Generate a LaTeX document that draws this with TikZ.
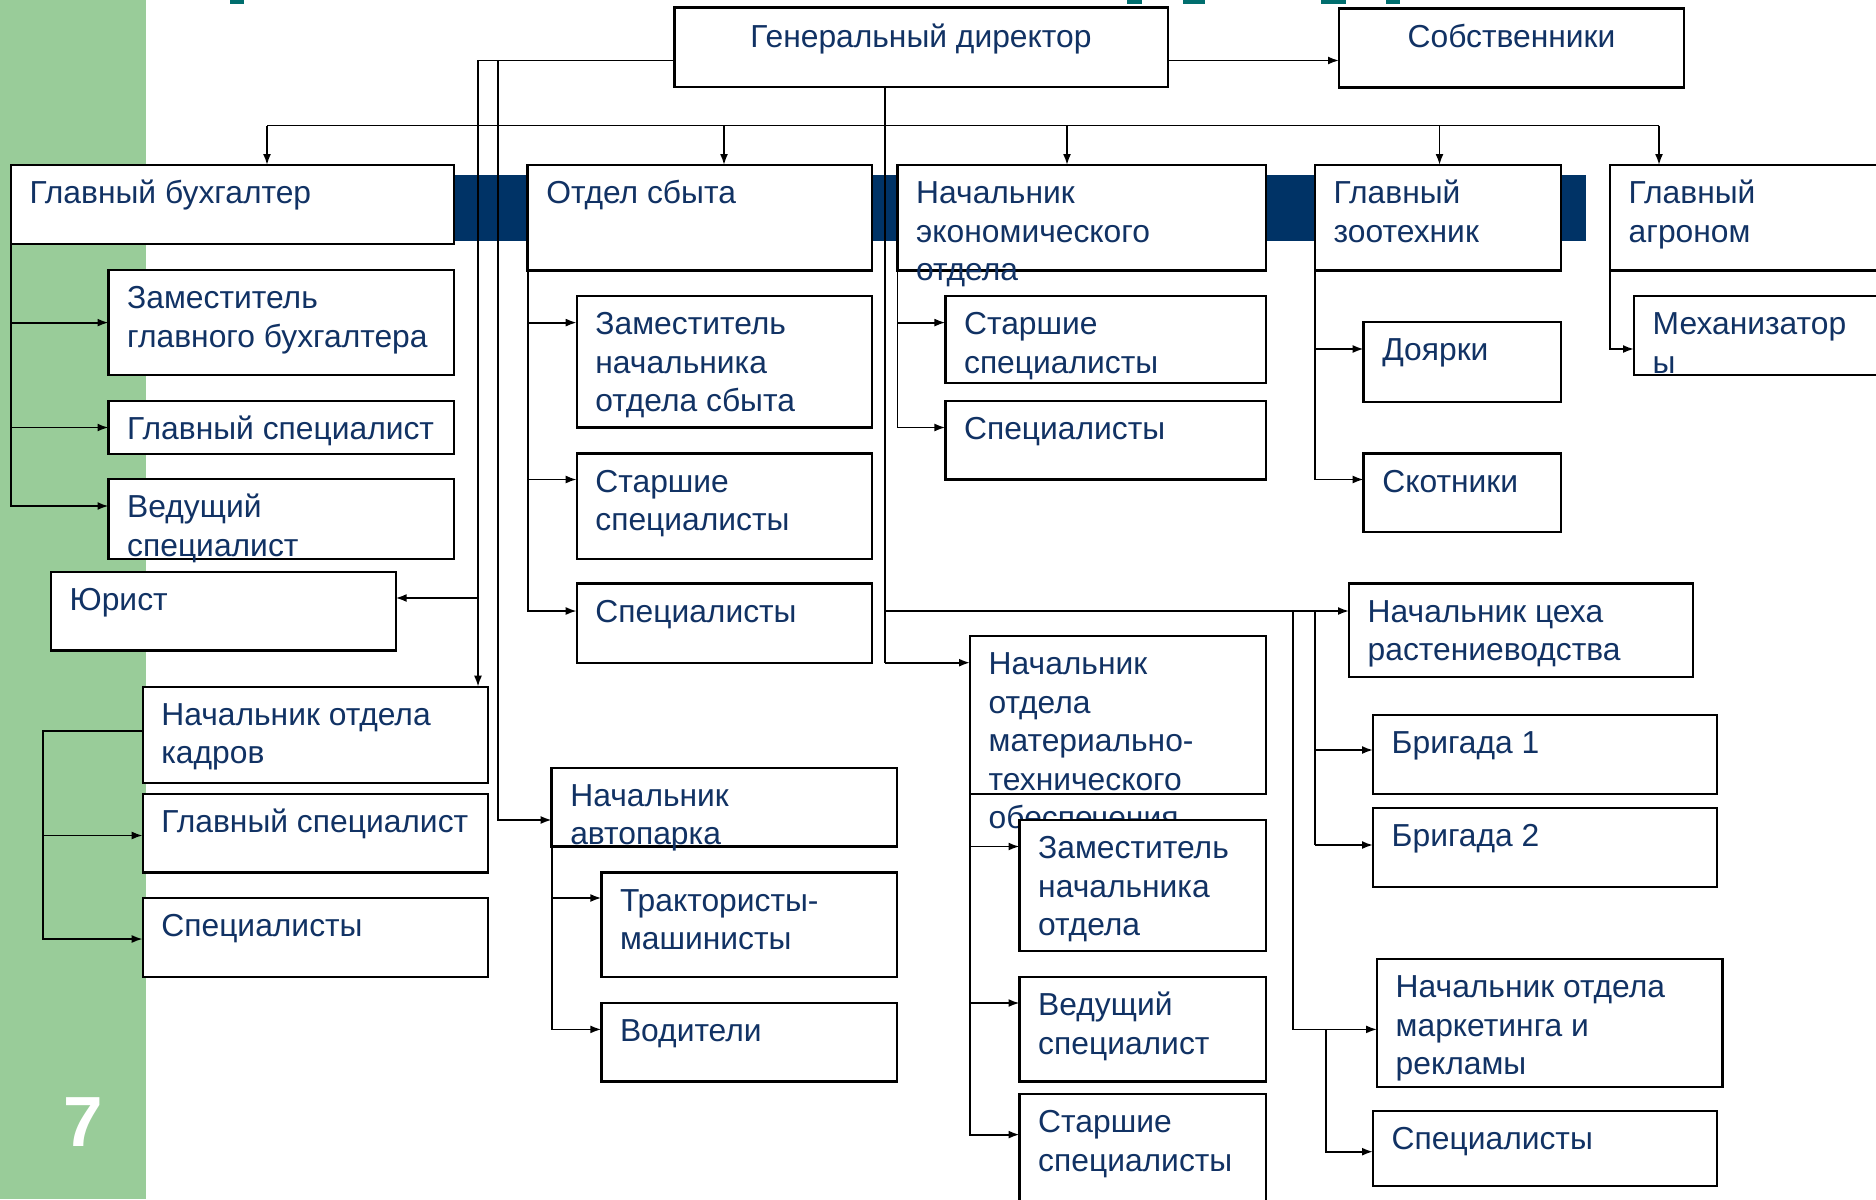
\documentclass[tikz,border=0pt]{standalone}
\usepackage{fontspec}
\setmainfont{Liberation Sans}
\usetikzlibrary{arrows.meta}
\definecolor{navy}{RGB}{0,51,102}
\definecolor{txtc}{RGB}{17,50,100}
\definecolor{grn}{RGB}{153,204,153}
\definecolor{tealt}{RGB}{0,110,110}
\tikzset{
 bx/.style={draw=black, line width=2.4pt, fill=white, inner sep=0pt, outer sep=0pt, anchor=north west},
 txt/.style={anchor=north west, inner sep=0pt, align=left, text=txtc, font=\fontsize{31.8}{38.5}\selectfont},
 ln/.style={line width=1.8pt, draw=black},
 arr/.style={ln, -{Latex[length=11pt,width=8pt]}},
}
\newcommand\bxn[6]{%
 \node[bx, minimum width={#4-#2}, minimum height={#5-#3}] (#1) at (#2,#3) {};
 \node[txt] (#1t) at (#2+18.5,#3+11.5) {\strut #6};}
\begin{document}
\begin{tikzpicture}[x=1pt,y=-1pt]
\clip (0,0) rectangle (1876,1199);
\fill[white] (0,0) rectangle (1876,1199);
\fill[grn] (0,0) rectangle (146,1199);
\fill[navy] (454,175) rectangle (1586,241);
% fragments of the cut-off title
\fill[tealt] (230,0) rectangle (244,4.5);
\fill[tealt] (1127,0) rectangle (1141.5,4.5);
\fill[tealt] (1183,0) rectangle (1205,4.5);
\fill[tealt] (1321,0) rectangle (1346,4.5);
\fill[tealt] (1386,0) rectangle (1400,4.5);
\node[text=white, font=\fontsize{71}{71}\bfseries\selectfont, inner sep=0pt] (num) at (83,1122) {7};
% top
\node[bx, minimum width={1168-674.5}, minimum height={87-7.7}] (gd) at (674.5,7.7) {};
\node[txt, anchor=base] (gdt) at (921,48) {Генеральный директор};
\node[bx, minimum width={1684-1339}, minimum height={87.3-8.4}] (own) at (1339,8.4) {};
\node[txt, anchor=base] (ownt) at (1511.5,48) {Собственники};
% row 1
\bxn{gb}{10.8}{165}{454}{244}{Главный бухгалтер}
\bxn{os}{527.6}{165}{872}{270.6}{Отдел сбыта}
\bxn{ne}{897.5}{165}{1266}{270.6}{Начальник\\экономического\\отдела}
\bxn{gz}{1315}{165}{1561}{270.6}{Главный\\зоотехник}
\bxn{ga}{1610}{165}{1890}{270.6}{Главный\\агроном}
% children
\bxn{gb1}{108.5}{270}{454}{375}{Заместитель\\главного бухгалтера}
\bxn{gb2}{108.5}{400.7}{454}{454}{Главный специалист}
\bxn{gb3}{108.5}{479}{454}{559}{Ведущий\\специалист}
\bxn{os1}{576.7}{296}{872}{427.5}{Заместитель\\начальника\\отдела сбыта}
\bxn{os2}{576.7}{453.5}{872}{559}{Старшие\\специалисты}
\bxn{os3}{576.7}{583.6}{872}{662.7}{Специалисты}
\bxn{ne1}{945.4}{296}{1266}{382.7}{Старшие\\специалисты}
\bxn{ne2}{945.4}{400.7}{1266}{479.5}{Специалисты}
\bxn{gz1}{1363.6}{322}{1561}{401.8}{Доярки}
\bxn{gz2}{1363.6}{453.5}{1561}{532}{Скотники}
\bxn{ga1}{1634}{296}{1890}{375}{Механизатор\\ы}
\bxn{jur}{51}{572}{395.7}{650.5}{Юрист}
\bxn{ok}{142.7}{686.7}{488}{783}{Начальник отдела\\кадров}
\bxn{ok1}{142.7}{794}{488}{872.5}{Главный специалист}
\bxn{ok2}{142.7}{898}{488}{977}{Специалисты}
\bxn{ap}{551.6}{767.8}{897}{846.5}{Начальник\\автопарка}
\bxn{ap1}{601.3}{872.5}{897}{977}{Трактористы-\\машинисты}
\bxn{ap2}{601.3}{1003}{897}{1081.6}{Водители}
\bxn{cr}{1349}{583.6}{1693}{677}{Начальник цеха\\растениеводства}
\bxn{br1}{1373}{715}{1717}{794}{Бригада 1}
\bxn{br2}{1373}{807.8}{1717}{886.8}{Бригада 2}
\bxn{mto}{970}{636}{1266}{794}{Начальник\\отдела\\материально-\\технического\\обеспечения}
\bxn{mto1}{1019.5}{820}{1266}{951}{Заместитель\\начальника\\отдела}
\bxn{mto2}{1019.5}{977}{1266}{1081.6}{Ведущий\\специалист}
\bxn{mto3}{1019.5}{1094}{1266}{1215}{Старшие\\специалисты}
\bxn{mk}{1377}{959}{1722.6}{1087}{Начальник отдела\\маркетинга и\\рекламы}
\bxn{mk1}{1373}{1111}{1717}{1186}{Специалисты}
% junction coordinates
\coordinate (jL) at (478,60.5);
\coordinate (jL2) at (498,60.5);
\coordinate (jJ) at (478,598);
\coordinate (jA) at (498,820);
\coordinate (b1) at (267,125.5);
\coordinate (b2) at (724,125.5);
\coordinate (b3) at (1067,125.5);
\coordinate (b4) at (1439.5,125.5);
\coordinate (b5) at (1659,125.5);
\coordinate (jC) at (885,611);
\coordinate (jM) at (885,662.7);
\coordinate (r1) at (1315,611);
\coordinate (r1a) at (1315,750);
\coordinate (r1b) at (1315,845);
\coordinate (r2) at (1293,611);
\coordinate (r2a) at (1293,1029.4);
\coordinate (r3) at (1326,1029.4);
\coordinate (r3a) at (1326,1151.7);
\coordinate (g1) at (10.8,322.6);
\coordinate (g2) at (10.8,427.5);
\coordinate (g3) at (10.8,506);
\coordinate (o1) at (527.6,322.6);
\coordinate (o2) at (527.6,479.5);
\coordinate (o3) at (527.6,611);
\coordinate (n1) at (897.5,322.6);
\coordinate (n2) at (897.5,427.5);
\coordinate (z1) at (1315,349);
\coordinate (z2) at (1315,479.5);
\coordinate (a1) at (1610,349);
\coordinate (k0) at (43,731);
\coordinate (k1) at (43,835.5);
\coordinate (k2) at (43,939);
\coordinate (p1) at (551.6,898);
\coordinate (p2) at (551.6,1029.4);
\coordinate (m1) at (970,846.5);
\coordinate (m2) at (970,1003);
\coordinate (m3) at (970,1134.6);
% connectors
\draw[arr] (gd.east |- jL) -- (own.west |- jL);
\draw[ln] (gd.west |- jL) -- (jL);
\draw[arr] (jL) -- (jL |- ok.north);
\draw[arr] (jJ) -- (jJ -| jur.east);
\draw[arr] (jL2) -- (jA) -- (jA -| ap.west);
\draw[ln] (b1) -- (b5);
\draw[arr] (b1) -- (b1 |- gb.north);
\draw[arr] (b2) -- (b2 |- os.north);
\draw[arr] (b3) -- (b3 |- ne.north);
\draw[arr] (b4) -- (b4 |- gz.north);
\draw[arr] (b5) -- (b5 |- ga.north);
\draw[ln] (jC |- gd.south) -- (jM);
\draw[arr] (jM) -- (jM -| mto.west);
\draw[arr] (jC) -- (jC -| cr.west);
\draw[ln] (r1) -- (r1b);
\draw[arr] (r1a) -- (r1a -| br1.west);
\draw[arr] (r1b) -- (r1b -| br2.west);
\draw[arr] (r2) -- (r2a) -- (r2a -| mk.west);
\draw[arr] (r3) -- (r3a) -- (r3a -| mk1.west);
\draw[arr] (gb.south west) -- (g3) -- (g3 -| gb3.west);
\draw[arr] (g1) -- (g1 -| gb1.west);
\draw[arr] (g2) -- (g2 -| gb2.west);
\draw[arr] (os.south west) -- (o3) -- (o3 -| os3.west);
\draw[arr] (o1) -- (o1 -| os1.west);
\draw[arr] (o2) -- (o2 -| os2.west);
\draw[arr] (ne.south west) -- (n2) -- (n2 -| ne2.west);
\draw[arr] (n1) -- (n1 -| ne1.west);
\draw[arr] (gz.south west) -- (z2) -- (z2 -| gz2.west);
\draw[arr] (z1) -- (z1 -| gz1.west);
\draw[arr] (ga.south west) -- (a1) -- (a1 -| ga1.west);
\draw[arr] (ok.west |- k0) -- (k0) -- (k2) -- (k2 -| ok2.west);
\draw[arr] (k1) -- (k1 -| ok1.west);
\draw[arr] (ap.south west) -- (p2) -- (p2 -| ap2.west);
\draw[arr] (p1) -- (p1 -| ap1.west);
\draw[arr] (mto.south west) -- (m3) -- (m3 -| mto3.west);
\draw[arr] (m1) -- (m1 -| mto1.west);
\draw[arr] (m2) -- (m2 -| mto2.west);
\end{tikzpicture}
\end{document}
